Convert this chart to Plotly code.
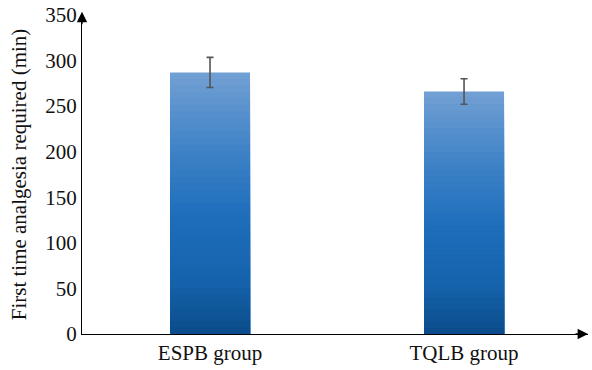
import plotly.graph_objects as go

categories = ["ESPB group", "TQLB group"]
means = [287, 266]
sds = [16.5, 14]

# gradient: colors from bottom (dark) to top (light)
stops = [(0.0, (10, 76, 138)), (0.2, (22, 98, 172)), (0.45, (30, 110, 188)), (0.7, (62, 130, 198)), (1.0, (114, 160, 212))]

def col(t):
    for (t0, c0), (t1, c1) in zip(stops[:-1], stops[1:]):
        if t <= t1:
            f = (t - t0) / (t1 - t0) if t1 > t0 else 0
            return "rgb(%d,%d,%d)" % tuple(round(a + (b - a) * f) for a, b in zip(c0, c1))
    return "rgb(%d,%d,%d)" % stops[-1][1]

N = 40
fig = go.Figure()
for k in range(N):
    frac = 1 - k / N
    fig.add_trace(go.Bar(
        x=[0, 1], y=[m * frac for m in means], width=0.315,
        marker=dict(color=col(frac - 0.5 / N), line=dict(width=0)),
        showlegend=False, hoverinfo="skip",
    ))
# error bars on top
fig.add_trace(go.Bar(
    x=[0, 1], y=means, width=0.315,
    marker=dict(color="rgba(0,0,0,0)", line=dict(width=0)),
    error_y=dict(type="data", array=sds, color="#555555", thickness=1.6, width=3.5),
    showlegend=False,
))

fig.update_layout(
    barmode="overlay", width=592, height=370,
    margin=dict(l=82, r=4, t=15, b=36),
    paper_bgcolor="white", plot_bgcolor="white",
    font=dict(family="Liberation Serif, Times New Roman, serif", color="#111111", size=21),
    xaxis=dict(range=[-0.504, 1.488], tickmode="array", tickvals=[0, 1], ticktext=categories,
               showline=True, linecolor="black", linewidth=1.3, ticks="", showgrid=False,
               zeroline=False, tickfont=dict(size=21), automargin=False),
    yaxis=dict(range=[0, 350], dtick=50, showline=True, linecolor="black", linewidth=1.3,
               ticks="", showgrid=False, zeroline=False, tickfont=dict(size=21), automargin=False,
               ticklabeloverflow="allow",
               title=dict(text="First time analgesia required (min)", font=dict(size=21), standoff=12)),
    annotations=[
        dict(x=1, y=0, xref="paper", yref="paper", ax=-14, ay=0, showarrow=True,
             arrowhead=2, arrowsize=1.6, arrowwidth=1.3, arrowcolor="black", text=""),
        dict(x=0, y=1.01, xref="paper", yref="paper", ax=0, ay=14, showarrow=True,
             arrowhead=2, arrowsize=1.6, arrowwidth=1.3, arrowcolor="black", text=""),
    ],
)
fig.write_html("out.html", config={"displayModeBar": False},
               post_script="document.body.style.margin='0px';document.body.style.overflow='hidden';")
